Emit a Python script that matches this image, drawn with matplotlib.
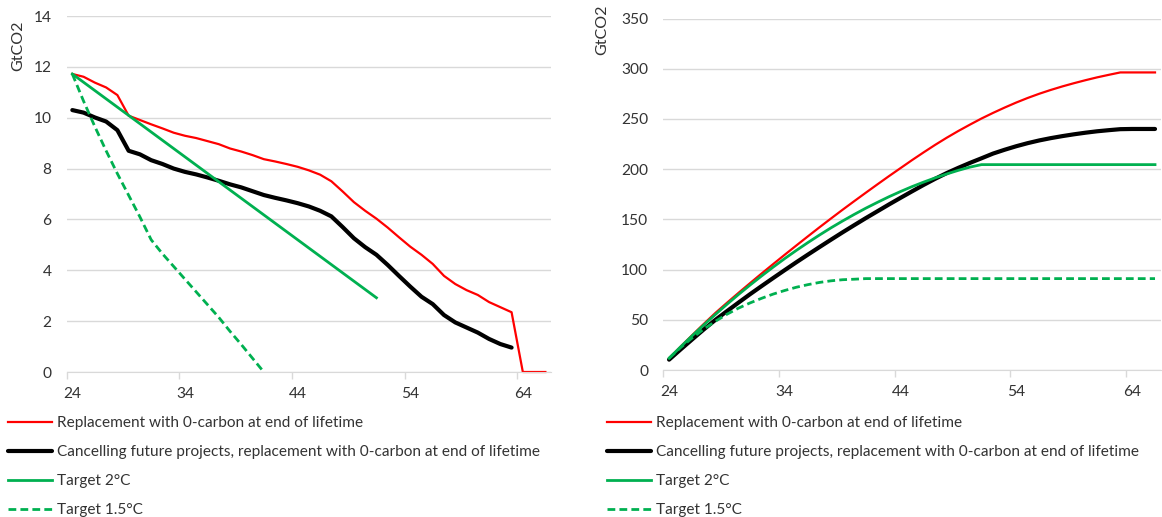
import matplotlib
matplotlib.use('Agg')
import matplotlib.pyplot as plt
import numpy as np

plt.rcParams['font.family'] = ['Lato', 'DejaVu Sans']

years = np.arange(24, 67)

# annual emissions (GtCO2)
red_annual = [11.72, 11.61, 11.38, 11.19, 10.89, 10.08, 9.91, 9.74, 9.58, 9.41,
              9.29, 9.20, 9.08, 8.96, 8.79, 8.67, 8.53, 8.37, 8.28, 8.18,
              8.07, 7.93, 7.76, 7.50, 7.10, 6.68, 6.34, 6.03, 5.68, 5.30,
              4.93, 4.61, 4.25, 3.78, 3.46, 3.22, 3.03, 2.75, 2.55, 2.35,
              0, 0, 0]
black_years = np.arange(24, 64)
black_annual = [10.30, 10.20, 10.01, 9.85, 9.51, 8.70, 8.56, 8.33, 8.18, 8.00,
                7.87, 7.77, 7.65, 7.52, 7.38, 7.26, 7.11, 6.96, 6.85, 6.75,
                6.64, 6.51, 6.34, 6.12, 5.70, 5.26, 4.91, 4.61, 4.21, 3.78,
                3.36, 2.96, 2.67, 2.24, 1.95, 1.75, 1.55, 1.30, 1.10, 0.96]
t2_years = [24, 51]
t2_annual = [11.72, 2.92]
t15_years = np.arange(24, 42)
t15_annual = [11.72, 10.65, 9.65, 8.70, 7.80, 6.95, 6.10, 5.20, 4.65, 4.15,
              3.65, 3.15, 2.65, 2.15, 1.60, 1.08, 0.54, 0]

# cumulative emissions (GtCO2)
red_cum = [11.7, 23.3, 34.7, 45.9, 56.8, 66.9, 76.8, 86.5, 96.1, 105.5,
           114.8, 124.0, 133.1, 142.1, 150.9, 159.6, 168.1, 176.5, 184.8, 193.0,
           201.0, 209.0, 216.7, 224.2, 231.3, 238.0, 244.3, 250.4, 256.0, 261.3,
           266.3, 270.9, 275.1, 278.9, 282.4, 285.6, 288.6, 291.4, 293.9, 296.3,
           296.3, 296.3, 296.3]
black_cum = [10.3, 20.5, 30.5, 40.4, 49.9, 58.6, 67.1, 75.5, 83.6, 91.6,
             99.5, 107.3, 114.9, 122.4, 129.8, 137.1, 144.2, 151.2, 158.0, 164.8,
             171.4, 177.9, 184.3, 190.4, 196.1, 201.3, 206.2, 210.8, 215.5, 219.3,
             222.8, 225.9, 228.6, 230.9, 232.9, 234.7, 236.3, 237.7, 238.8, 239.8,
             240.0, 240.0, 240.0]
t2_cum = [11.7, 23.1, 34.2, 44.9, 55.3, 65.4, 75.2, 84.6, 93.7, 102.5,
          111.0, 119.1, 126.9, 134.4, 141.6, 148.4, 154.9, 161.1, 166.9, 172.5,
          177.7, 182.6, 187.1, 191.3, 195.2, 198.8, 202.0, 204.5, 204.5, 204.5,
          204.5, 204.5, 204.5, 204.5, 204.5, 204.5, 204.5, 204.5, 204.5, 204.5,
          204.5, 204.5, 204.5]
t15_cum = [11.7, 22.4, 32.0, 40.7, 48.5, 55.5, 61.6, 66.8, 71.4, 75.6,
           79.2, 82.4, 85.0, 87.2, 88.8, 89.9, 90.4, 91.0, 91.0, 91.0,
           91.0, 91.0, 91.0, 91.0, 91.0, 91.0, 91.0, 91.0, 91.0, 91.0,
           91.0, 91.0, 91.0, 91.0, 91.0, 91.0, 91.0, 91.0, 91.0, 91.0,
           91.0, 91.0, 91.0]

labels = ['Replacement with 0-carbon at end of lifetime',
          'Cancelling future projects, replacement with 0-carbon at end of lifetime',
          'Target 2°C',
          'Target 1.5°C']

RED = '#FF0000'
BLACK = '#000000'
GREEN = '#00B050'
GRID = '#D9D9D9'
TXT = '#333333'
FS = 11.1

W, H = 1162, 517
fig = plt.figure(figsize=(W / 100, H / 100), dpi=100)
ax1 = fig.add_axes([66.7 / W, 1 - 372 / H, 484.3 / W, 356 / H])
ax2 = fig.add_axes([663.3 / W, 1 - 370 / H, 497.5 / W, 351.5 / H])


def style(ax, ymax, ystep):
    ax.set_xlim(23.5, 66.5)
    ax.set_ylim(0, ymax)
    ax.set_yticks(np.arange(0, ymax + 1, ystep))
    ax.set_xticks([24, 34, 44, 54, 64])
    ax.set_xticks([23.5, 33.5, 43.5, 53.5, 63.5], minor=True)
    ax.tick_params(axis='x', which='major', length=0, pad=11, labelsize=11.2, labelcolor=TXT)
    ax.tick_params(axis='x', which='minor', length=5, width=1, color=GRID)
    ax.tick_params(axis='y', length=0, pad=11, labelsize=11.2, labelcolor=TXT)
    ax.grid(axis='y', color=GRID, lw=1)
    for s in ['top', 'right', 'left']:
        ax.spines[s].set_visible(False)
    ax.spines['bottom'].set_color(GRID)
    ax.set_axisbelow(True)


style(ax1, 14, 2)
style(ax2, 350, 50)

h = []
h.append(ax1.plot(years, red_annual, color=RED, lw=1.6, clip_on=False)[0])
h.append(ax1.plot(black_years, black_annual, color=BLACK, lw=3, clip_on=False,
                  solid_capstyle='round')[0])
h.append(ax1.plot(t2_years, t2_annual, color=GREEN, lw=2, clip_on=False)[0])
h.append(ax1.plot(t15_years, t15_annual, color=GREEN, lw=2, ls=(0, (2.8, 1.5)),
                  clip_on=False)[0])

h2 = []
h2.append(ax2.plot(years, red_cum, color=RED, lw=1.6, clip_on=False)[0])
h2.append(ax2.plot(years, black_cum, color=BLACK, lw=3, clip_on=False,
                   solid_capstyle='round')[0])
h2.append(ax2.plot(years, t2_cum, color=GREEN, lw=2, clip_on=False)[0])
h2.append(ax2.plot(years, t15_cum, color=GREEN, lw=2, ls=(0, (2.8, 1.5)),
                   clip_on=False)[0])

fig.text(18 / W, 1 - 46 / H, 'GtCO2', rotation=90, ha='center', va='center',
         fontsize=11.5, color=TXT)
fig.text(602 / W, 1 - 30 / H, 'GtCO2', rotation=90, ha='center', va='center',
         fontsize=11.5, color=TXT)

for handles, x0 in [(h, 8), (h2, 607)]:
    fig.legend(handles, labels, loc='upper left', bbox_to_anchor=(x0 / W, 1 - 416 / H),
               frameon=False, handlelength=2.85, handletextpad=0.3, labelspacing=0.98,
               borderpad=0, borderaxespad=0, fontsize=FS, labelcolor=TXT)

fig.savefig('out.png', dpi=100)
